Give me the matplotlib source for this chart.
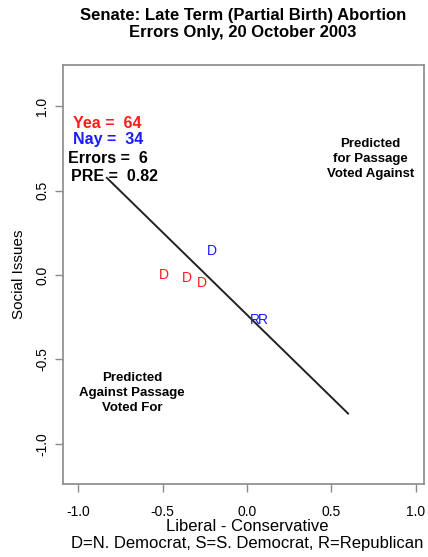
import matplotlib.pyplot as plt

plt.rcParams['font.family'] = ['Liberation Sans', 'DejaVu Sans']

# legislators voting against the prediction
rotulos = ["D", "D", "D", "D", "R", "R"]
lib_cons = [-0.49, -0.355, -0.266, -0.207, 0.047, 0.096]
social = [0.0, -0.018, -0.047, 0.142, -0.266, -0.266]
voto = ["yea", "yea", "yea", "nay", "nay", "nay"]

# cutting line
corte_x = [-0.83, 0.60]
corte_y = [0.575, -0.82]

yea, nay, erros, pre = 64, 34, 6, 0.82

cores = {"yea": "#ff1a1a", "nay": "#1a1aff"}
cinza = "#8a8a8a"

fig = plt.figure(figsize=(4.28, 5.57), dpi=100)
ax = fig.add_axes([63 / 428, 1 - 484 / 557, 361 / 428, 419 / 557])

ax.plot(corte_x, corte_y, color="#222222", lw=1.4)

for r, x, y, v in zip(rotulos, lib_cons, social, voto):
    ax.text(x, y, r, color=cores[v], fontsize=10, ha="center", va="center")

ax.set_xlim(-1.09, 1.05)
ax.set_ylim(-1.237, 1.243)
ax.set_xticks([-1.0, -0.5, 0.0, 0.5, 1.0])
ax.set_yticks([-1.0, -0.5, 0.0, 0.5, 1.0])
ax.set_xticklabels(["-1.0", "-0.5", "0.0", "0.5", "1.0"], fontsize=10)
ax.set_yticklabels(["-1.0", "-0.5", "0.0", "0.5", "1.0"], fontsize=10,
                   rotation=90, va="center")
ax.tick_params(length=6, width=1, color=cinza)
ax.tick_params(axis="x", pad=9)
ax.tick_params(axis="y", pad=4)
for s in ax.spines.values():
    s.set_color(cinza)
    s.set_linewidth(1.2)

ax.set_xlabel("Liberal - Conservative\nD=N. Democrat, S=S. Democrat, R=Republican",
              fontsize=12, linespacing=1.15)
ax.xaxis.set_label_coords(0.51, -0.083)
ax.set_ylabel("Social Issues", fontsize=11)
ax.yaxis.set_label_coords(-0.103, 0.5)

# info box
ax.text(-1.03, 0.895, f"Yea =  {yea}", color=cores["yea"], fontsize=11.5,
        fontweight="bold", va="center")
ax.text(-1.03, 0.805, f"Nay =  {nay}", color=cores["nay"], fontsize=11.5,
        fontweight="bold", va="center")
ax.text(-1.06, 0.69, f"Errors =  {erros}", color="black", fontsize=11.5,
        fontweight="bold", va="center")
ax.text(-1.045, 0.585, f"PRE =  {pre}", color="black", fontsize=11.5,
        fontweight="bold", va="center")

ax.text(0.734, 0.686, "Predicted\nfor Passage\nVoted Against", fontsize=9.5,
        fontweight="bold", ha="center", va="center", linespacing=1.35)
ax.text(-0.68, -0.698, "Predicted\nAgainst Passage\nVoted For", fontsize=9.5,
        fontweight="bold", ha="center", va="center", linespacing=1.35)

fig.text(0.568, 0.957, "Senate: Late Term (Partial Birth) Abortion\nErrors Only, 20 October 2003",
         fontsize=12, fontweight="bold", ha="center", va="center", linespacing=1.2)

fig.savefig("out.png", dpi=100)
